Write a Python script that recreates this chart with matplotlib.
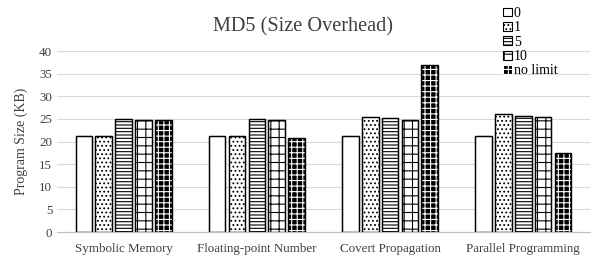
import matplotlib
matplotlib.use("Agg")
import matplotlib.pyplot as plt
import numpy as np

categories = ["Symbolic Memory", "Floating-point Number", "Covert Propagation", "Parallel Programming"]
series_names = ["0", "1", "5", "10", "no limit"]
vals_0 = [21.2, 21.2, 21.2, 21.2]
vals_1 = [21.2, 21.2, 25.4, 26.0]
vals_5 = [25.0, 25.0, 25.1, 25.6]
vals_10 = [24.7, 24.7, 24.8, 25.4]
vals_nolimit = [24.7, 20.7, 36.9, 17.4]
yticks = [0, 5, 10, 15, 20, 25, 30, 35, 40]

series = [vals_0, vals_1, vals_5, vals_10, vals_nolimit]
hatches = ["", "....", "-----", "++", "+++"]
faces = ["white", "white", "white", "white", "black"]
hatch_edges = ["black", "black", "black", "black", "white"]

plt.rcParams['font.family'] = ['Liberation Serif', 'DejaVu Serif']
plt.rcParams['hatch.linewidth'] = 0.8

fig = plt.figure(figsize=(5.94, 2.59), dpi=100)
ax = fig.add_axes([0.096, 0.104, 0.897, 0.699])

x = np.arange(len(categories))
slot = 0.149
width = 0.125
handles = []
for i, vals in enumerate(series):
    b = ax.bar(x + (i - 2) * slot, vals, width, facecolor=faces[i], edgecolor=hatch_edges[i],
               hatch=hatches[i], linewidth=0.8, zorder=3)
    ax.bar(x + (i - 2) * slot, vals, width, facecolor="none", edgecolor="black",
           linewidth=1.0, zorder=4)
    handles.append(b)

ax.set_ylim(0, 40)
ax.set_xlim(-0.5, 3.5)
ax.set_yticks(yticks)
ax.set_xticks(x)
ax.set_xticklabels(categories, fontsize=9.4)
ax.tick_params(axis='y', labelsize=9.4, length=0, colors="#404040")
ax.tick_params(axis='x', length=0, pad=8, colors="#404040")
ax.yaxis.grid(True, color="#d9d9d9", linewidth=0.8, zorder=0)
for s in ["top", "right", "left"]:
    ax.spines[s].set_visible(False)
ax.spines["bottom"].set_color("#bfbfbf")
ax.set_ylabel("Program Size (KB)", fontsize=10, color="#404040", labelpad=8)
fig.text(0.51, 0.86, "MD5 (Size Overhead)", fontsize=14.6, ha="center", va="bottom", color="#404040")

leg = fig.legend(handles=handles, labels=series_names, loc="upper left", bbox_to_anchor=(0.838, 0.995),
                 frameon=False, fontsize=10, handlelength=0.6, handleheight=0.6, handletextpad=0.15,
                 labelspacing=0.1, borderaxespad=0)

fig.savefig("out.png", dpi=100)
